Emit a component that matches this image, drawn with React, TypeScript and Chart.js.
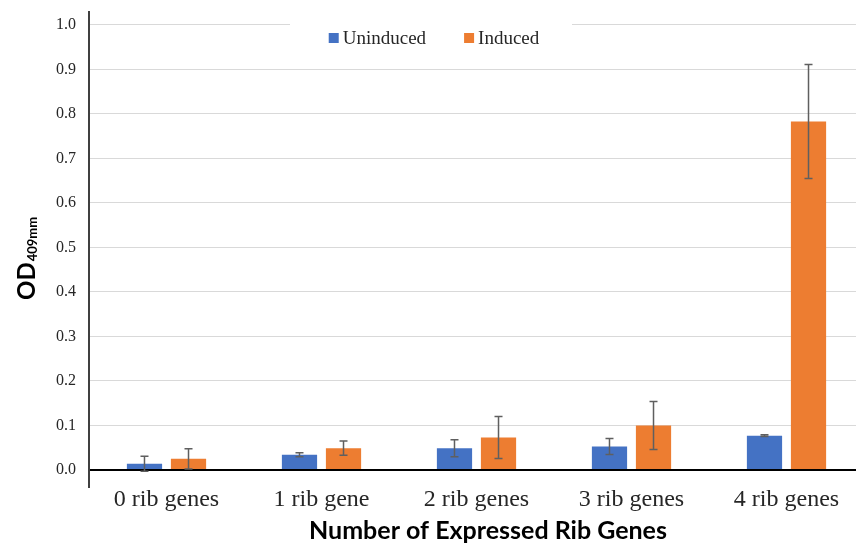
import React, { useEffect, useRef } from "react";
import { Chart, registerables } from "chart.js";

Chart.register(...registerables);

const categories = ["0 rib genes", "1 rib gene", "2 rib genes", "3 rib genes", "4 rib genes"];
const uninduced = [0.014, 0.034, 0.049, 0.053, 0.077];
const induced = [0.025, 0.049, 0.073, 0.1, 0.783];
const uninducedErr = [0.017, 0.0045, 0.019, 0.018, 0.002];
const inducedErr = [0.023, 0.016, 0.047, 0.054, 0.128];
const yTickValues = [0, 0.1, 0.2, 0.3, 0.4, 0.5, 0.6, 0.7, 0.8, 0.9, 1.0];
const xTitle = "Number of Expressed Rib Genes";
const yTitleMain = "OD";
const yTitleSub = "409mm";

const BLUE = "#4472C4";
const ORANGE = "#ED7D31";

const errorBarPlugin = {
  id: "errorBars",
  afterDatasetsDraw(chart: any) {
    const { ctx, scales } = chart;
    const y = scales.y;
    chart.data.datasets.forEach((ds: any, i: number) => {
      const meta = chart.getDatasetMeta(i);
      const errs: number[] = ds.errors || [];
      meta.data.forEach((el: any, j: number) => {
        const v = ds.data[j];
        const e = errs[j] || 0;
        const yt = y.getPixelForValue(v + e);
        const yb = y.getPixelForValue(v - e);
        const x = el.x;
        ctx.save();
        ctx.strokeStyle = "#5f5f5f";
        ctx.lineWidth = 1.5;
        ctx.beginPath();
        ctx.moveTo(x, yt);
        ctx.lineTo(x, yb);
        ctx.moveTo(x - 4, yt);
        ctx.lineTo(x + 4, yt);
        ctx.moveTo(x - 4, yb);
        ctx.lineTo(x + 4, yb);
        ctx.stroke();
        ctx.restore();
      });
    });
  },
};

const decorPlugin = {
  id: "decor",
  afterDraw(chart: any) {
    const { ctx } = chart;
    ctx.save();
    // legend
    ctx.fillStyle = "#ffffff";
    ctx.fillRect(290, 14, 282, 46);
    ctx.font = "19px 'Liberation Serif', 'Times New Roman', serif";
    ctx.textBaseline = "middle";
    const items = chart.data.datasets.map((d: any) => ({ label: d.label, color: d.backgroundColor }));
    const gap = 38;
    const widths = items.map((it: any) => 14 + ctx.measureText(it.label).width);
    const total = widths.reduce((a: number, b: number) => a + b, 0) + gap * (items.length - 1);
    let x = 434 - total / 2;
    items.forEach((it: any, k: number) => {
      ctx.fillStyle = it.color;
      ctx.fillRect(x, 33, 10, 10);
      ctx.fillStyle = "#262626";
      ctx.textAlign = "left";
      ctx.fillText(it.label, x + 14, 39);
      x += widths[k] + gap;
    });
    // x title
    ctx.fillStyle = "#000000";
    ctx.font = "bold 25px Lato, 'Open Sans', sans-serif";
    ctx.textAlign = "center";
    ctx.textBaseline = "alphabetic";
    ctx.fillText(xTitle, 488, 539);
    // y title with subscript
    ctx.translate(35, 300);
    ctx.rotate(-Math.PI / 2);
    ctx.textAlign = "left";
    ctx.font = "bold 24px Lato, 'Open Sans', sans-serif";
    ctx.fillText(yTitleMain, 0, 0);
    const w = ctx.measureText(yTitleMain).width;
    ctx.font = "bold 13px Lato, 'Open Sans', sans-serif";
    ctx.fillText(yTitleSub, w + 1, 2);
    ctx.restore();
  },
};

export default function App() {
  const ref = useRef<HTMLCanvasElement | null>(null);
  useEffect(() => {
    if (!ref.current) return;
    const chart = new Chart(ref.current, {
      type: "bar",
      data: {
        labels: categories,
        datasets: [
          {
            label: "Uninduced",
            data: uninduced,
            backgroundColor: BLUE,
            borderWidth: 0,
            categoryPercentage: 0.568,
            barPercentage: 0.8,
            errors: uninducedErr,
          } as any,
          {
            label: "Induced",
            data: induced,
            backgroundColor: ORANGE,
            borderWidth: 0,
            categoryPercentage: 0.568,
            barPercentage: 0.8,
            errors: inducedErr,
          } as any,
        ],
      },
      options: {
        responsive: false,
        animation: false,
        devicePixelRatio: 1,
        layout: { padding: { top: 12, right: 6, left: 0, bottom: 0 } },
        plugins: { legend: { display: false }, tooltip: { enabled: false }, title: { display: false } },
        scales: {
          x: {
            grid: { display: false, drawTicks: false },
            border: { display: false },
            ticks: {
              padding: -2,
              color: "#262626",
              font: { family: "'Liberation Serif', 'Times New Roman', serif", size: 24 },
            },
            afterFit: (s: any) => {
              s.height = 64;
              s.paddingLeft = 0;
              s.paddingRight = 0;
            },
          },
          y: {
            min: -0.0382,
            max: 1.029,
            afterBuildTicks: (s: any) => {
              s.ticks = yTickValues.map((v) => ({ value: v }));
            },
            afterFit: (s: any) => {
              s.width = 89;
              s.paddingTop = 0;
              s.paddingBottom = 0;
            },
            grid: {
              drawTicks: false,
              color: (c: any) => (c.tick && Math.abs(c.tick.value) < 1e-9 ? "#000000" : "#d9d9d9"),
              lineWidth: (c: any) => (c.tick && Math.abs(c.tick.value) < 1e-9 ? 2 : 1),
            },
            border: { display: true, color: "#404040", width: 2 },
            ticks: {
              padding: 13,
              color: "#262626",
              font: { family: "'Liberation Serif', 'Times New Roman', serif", size: 16 },
              callback: (v: any) => Number(v).toFixed(1),
            },
          },
        },
      },
      plugins: [errorBarPlugin, decorPlugin],
    });
    return () => chart.destroy();
  }, []);
  return (
    <div style={{ position: "fixed", left: 0, top: 0, width: 856, height: 551, overflow: "hidden", background: "#fff" }}>
      <canvas ref={ref} width={870} height={551} style={{ display: "block" }} />
    </div>
  );
}
